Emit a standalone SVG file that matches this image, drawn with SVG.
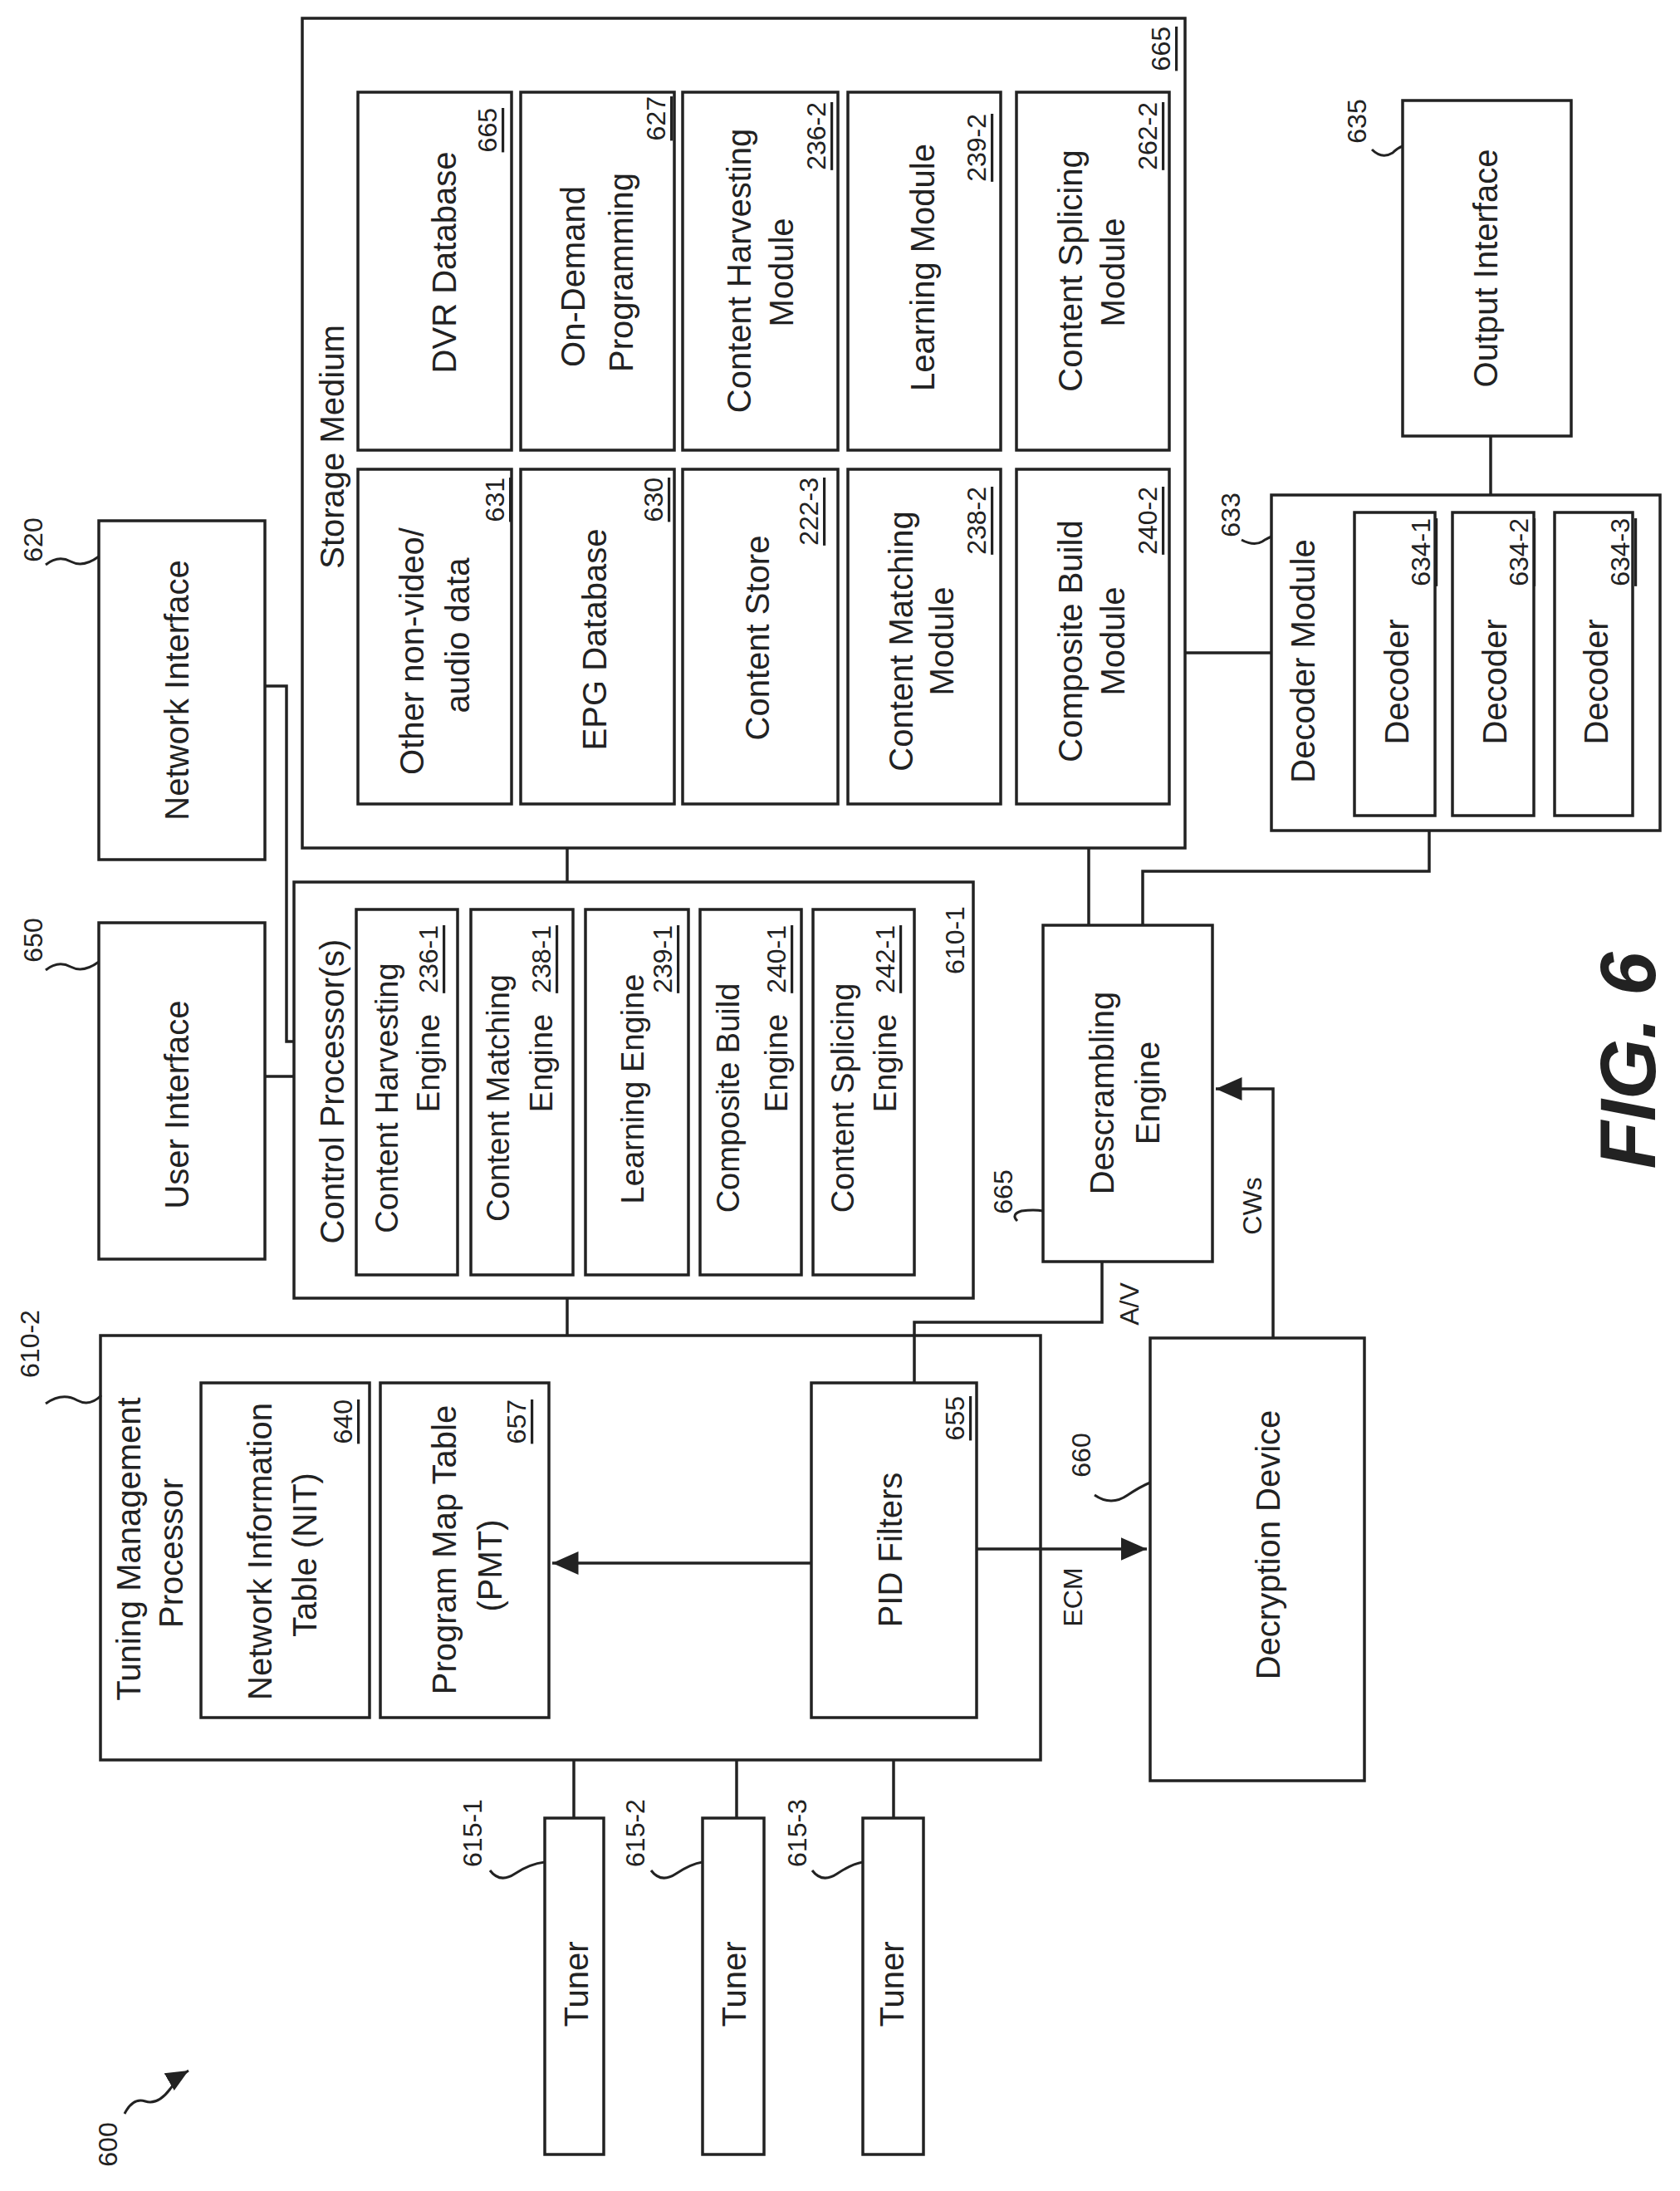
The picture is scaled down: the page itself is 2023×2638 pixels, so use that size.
<svg xmlns="http://www.w3.org/2000/svg" width="2023" height="2638" viewBox="0 0 2023 2638">
<style>
rect{fill:none;stroke:#222;stroke-width:3.5}
.c path,.c line,.c polyline{fill:none;stroke:#222;stroke-width:3.5}
.sq{fill:none;stroke:#222;stroke-width:3}
text{font-family:"Liberation Sans",Arial,sans-serif;font-size:40px;fill:#222;text-anchor:middle;dominant-baseline:central}
.e{font-size:38px}
.n{font-size:32px;text-anchor:end;text-decoration:underline}
.l{font-size:32px}
.fig{font-size:94px;font-weight:bold;font-style:italic}
</style>
<defs>
<marker id="ah" markerWidth="10" markerHeight="10" refX="9" refY="5" orient="auto" markerUnits="strokeWidth"><path d="M0,1 L9,5 L0,9 Z" fill="#222"/></marker>
</defs>
<g id="storage">
<rect x="364" y="22" width="1063" height="999"/>
<text transform="translate(400,538) rotate(-90)">Storage Medium</text>
<text class="n" transform="translate(1398,32) rotate(-90)">665</text>
</g>
<g id="dvr"><rect x="431" y="111" width="185" height="431"/>
<text transform="translate(535,316) rotate(-90)">DVR Database</text>
<text class="n" transform="translate(587,130) rotate(-90)">665</text></g>
<g id="ondemand"><rect x="627" y="111" width="185" height="431"/>
<text transform="translate(690,333) rotate(-90)">On-Demand</text>
<text transform="translate(748,328) rotate(-90)">Programming</text>
<text class="n" transform="translate(790,116) rotate(-90)">627</text></g>
<g id="chm"><rect x="822" y="111" width="187" height="431"/>
<text transform="translate(890,326) rotate(-90)">Content Harvesting</text>
<text transform="translate(941,328) rotate(-90)">Module</text>
<text class="n" transform="translate(983,123) rotate(-90)">236-2</text></g>
<g id="lm"><rect x="1021" y="111" width="184" height="431"/>
<text transform="translate(1111,322) rotate(-90)">Learning Module</text>
<text class="n" transform="translate(1176,137) rotate(-90)">239-2</text></g>
<g id="csm"><rect x="1224" y="111" width="184" height="431"/>
<text transform="translate(1289,326) rotate(-90)">Content Splicing</text>
<text transform="translate(1340,328) rotate(-90)">Module</text>
<text class="n" transform="translate(1382,123) rotate(-90)">262-2</text></g>
<g id="other"><rect x="431" y="565" width="185" height="403"/>
<text transform="translate(496,784) rotate(-90)">Other non-video/</text>
<text transform="translate(551,765) rotate(-90)">audio data</text>
<text class="n" transform="translate(596,575) rotate(-90)">631</text></g>
<g id="epg"><rect x="627" y="565" width="185" height="403"/>
<text transform="translate(716,770) rotate(-90)">EPG Database</text>
<text class="n" transform="translate(787,575) rotate(-90)">630</text></g>
<g id="cstore"><rect x="822" y="565" width="187" height="403"/>
<text transform="translate(912,768) rotate(-90)">Content Store</text>
<text class="n" transform="translate(974,575) rotate(-90)">222-3</text></g>
<g id="cmm"><rect x="1021" y="565" width="184" height="403"/>
<text transform="translate(1085,772) rotate(-90)">Content Matching</text>
<text transform="translate(1134,772) rotate(-90)">Module</text>
<text class="n" transform="translate(1176,586) rotate(-90)">238-2</text></g>
<g id="cbm"><rect x="1224" y="565" width="184" height="403"/>
<text transform="translate(1289,772) rotate(-90)">Composite Build</text>
<text transform="translate(1340,772) rotate(-90)">Module</text>
<text class="n" transform="translate(1382,586) rotate(-90)">240-2</text></g>

<g id="netif"><rect x="119" y="627" width="200" height="408"/>
<text transform="translate(213,831) rotate(-90)">Network Interface</text>
<text class="l" transform="translate(40,650) rotate(-90)">620</text>
<path class="sq" d="M55,680 q15,-12 30,-4 q15,8 34,-6"/></g>
<g id="userif"><rect x="119" y="1111" width="200" height="405"/>
<text transform="translate(213,1330) rotate(-90)">User Interface</text>
<text class="l" transform="translate(40,1132) rotate(-90)">650</text>
<path class="sq" d="M55,1168 q15,-12 30,-4 q15,8 34,-6"/></g>

<g id="control"><rect x="354" y="1062" width="818" height="501"/>
<text transform="translate(400,1314) rotate(-90)">Control Processor(s)</text>
<text class="l" transform="translate(1150,1132) rotate(-90)">610-1</text></g>
<g id="che"><rect x="429" y="1095" width="122" height="440"/>
<text class="e" transform="translate(466,1322) rotate(-90)">Content Harvesting</text>
<text class="e" transform="translate(516,1280) rotate(-90)">Engine</text>
<text class="n" transform="translate(516,1114) rotate(-90)">236-1</text></g>
<g id="cme"><rect x="567" y="1095" width="123" height="440"/>
<text class="e" transform="translate(600,1322) rotate(-90)">Content Matching</text>
<text class="e" transform="translate(652,1280) rotate(-90)">Engine</text>
<text class="n" transform="translate(652,1114) rotate(-90)">238-1</text></g>
<g id="le"><rect x="705" y="1095" width="124" height="440"/>
<text class="e" transform="translate(762,1311) rotate(-90)">Learning Engine</text>
<text class="n" transform="translate(798,1114) rotate(-90)">239-1</text></g>
<g id="cbe"><rect x="843" y="1095" width="122" height="440"/>
<text class="e" transform="translate(877,1322) rotate(-90)">Composite Build</text>
<text class="e" transform="translate(935,1280) rotate(-90)">Engine</text>
<text class="n" transform="translate(935,1114) rotate(-90)">240-1</text></g>
<g id="cse"><rect x="979" y="1095" width="122" height="440"/>
<text class="e" transform="translate(1015,1322) rotate(-90)">Content Splicing</text>
<text class="e" transform="translate(1066,1280) rotate(-90)">Engine</text>
<text class="n" transform="translate(1066,1114) rotate(-90)">242-1</text></g>

<g id="tuning"><rect x="121" y="1608" width="1132" height="511"/>
<text transform="translate(155,1865) rotate(-90)">Tuning Management</text>
<text transform="translate(206,1870) rotate(-90)">Processor</text>
<text class="l" transform="translate(36,1618) rotate(-90)">610-2</text>
<path class="sq" d="M55,1690 q20,-14 38,-4 q15,8 29,-6"/></g>
<g id="nit"><rect x="242" y="1665" width="203" height="403"/>
<text transform="translate(313,1868) rotate(-90)">Network Information</text>
<text transform="translate(367,1872) rotate(-90)">Table (NIT)</text>
<text class="n" transform="translate(413,1685) rotate(-90)">640</text></g>
<g id="pmt"><rect x="458" y="1665" width="203" height="403"/>
<text transform="translate(535,1866) rotate(-90)">Program Map Table</text>
<text transform="translate(590,1885) rotate(-90)">(PMT)</text>
<text class="n" transform="translate(622,1685) rotate(-90)">657</text></g>
<g id="pid"><rect x="977" y="1665" width="199" height="403"/>
<text transform="translate(1072,1866) rotate(-90)">PID Filters</text>
<text class="n" transform="translate(1150,1681) rotate(-90)">655</text></g>

<g id="decrypt"><rect x="1385" y="1611" width="258" height="533"/>
<text transform="translate(1527,1860) rotate(-90)">Decryption Device</text>
<text class="l" transform="translate(1302,1752) rotate(-90)">660</text>
<path class="sq" d="M1318,1800 q20,14 40,0 q15,-10 27,-15"/></g>
<g id="descr"><rect x="1256" y="1114" width="204" height="405"/>
<text transform="translate(1327,1316) rotate(-90)">Descrambling</text>
<text transform="translate(1382,1316) rotate(-90)">Engine</text>
<text class="l" transform="translate(1208,1435) rotate(-90)">665</text>
<path class="sq" d="M1225,1470 q-8,-8 5,-12 q15,-2 26,0"/></g>

<g id="decoder"><rect x="1531" y="596" width="468" height="404"/>
<text transform="translate(1569,796) rotate(-90)">Decoder Module</text>
<text class="l" transform="translate(1482,620) rotate(-90)">633</text>
<path class="sq" d="M1495,650 q15,8 25,2 q6,-4 11,-6"/></g>
<g id="dec1"><rect x="1631" y="617" width="97" height="365"/>
<text transform="translate(1682,821) rotate(-90)">Decoder</text>
<text class="n" transform="translate(1711,624) rotate(-90)">634-1</text></g>
<g id="dec2"><rect x="1749" y="617" width="98" height="365"/>
<text transform="translate(1800,821) rotate(-90)">Decoder</text>
<text class="n" transform="translate(1829,624) rotate(-90)">634-2</text></g>
<g id="dec3"><rect x="1872" y="617" width="94" height="365"/>
<text transform="translate(1922,821) rotate(-90)">Decoder</text>
<text class="n" transform="translate(1951,624) rotate(-90)">634-3</text></g>
<g id="outif"><rect x="1689" y="121" width="203" height="404"/>
<text transform="translate(1789,323) rotate(-90)">Output Interface</text>
<text class="l" transform="translate(1634,146) rotate(-90)">635</text>
<path class="sq" d="M1652,180 q12,12 25,4 q6,-6 12,-8"/></g>

<g id="tuner1"><rect x="656" y="2189" width="71" height="405"/>
<text transform="translate(694,2389) rotate(-90)">Tuner</text>
<text class="l" transform="translate(569,2207) rotate(-90)">615-1</text>
<path class="sq" d="M590,2252 q12,16 30,4 q18,-12 36,-14"/></g>
<g id="tuner2"><rect x="846" y="2189" width="74" height="405"/>
<text transform="translate(884,2389) rotate(-90)">Tuner</text>
<text class="l" transform="translate(765,2207) rotate(-90)">615-2</text>
<path class="sq" d="M784,2252 q12,16 30,4 q18,-12 32,-14"/></g>
<g id="tuner3"><rect x="1039" y="2189" width="73" height="405"/>
<text transform="translate(1074,2389) rotate(-90)">Tuner</text>
<text class="l" transform="translate(960,2207) rotate(-90)">615-3</text>
<path class="sq" d="M978,2252 q12,16 30,4 q18,-12 31,-14"/></g>

<g id="label600">
<text class="l" transform="translate(130,2582) rotate(-90)">600</text>
<path class="sq" d="M150,2545 q10,-20 25,-15 q15,5 30,-15 q10,-15 22,-22" marker-end="url(#ah)"/>
</g>
<text class="fig" transform="translate(1960,1277) rotate(-90)">FIG. 6</text>

<g id="connectors" class="c">
<polyline points="319,826 345,826 345,1254 354,1254"/>
<line x1="319" y1="1296" x2="354" y2="1296"/>
<line x1="683" y1="1021" x2="683" y2="1062"/>
<line x1="683" y1="1563" x2="683" y2="1608"/>
<line x1="1427" y1="786" x2="1531" y2="786"/>
<line x1="1795" y1="525" x2="1795" y2="596"/>
<polyline points="1721,1000 1721,1049 1376,1049 1376,1114"/>
<line x1="1311" y1="1021" x2="1311" y2="1114"/>
<polyline points="1101,1665 1101,1592 1327,1592 1327,1519"/>
<line x1="977" y1="1882" x2="665" y2="1882" marker-end="url(#ah)"/>
<line x1="1176" y1="1865" x2="1381" y2="1865" marker-end="url(#ah)"/>
<polyline points="1533,1611 1533,1311 1464,1311" marker-end="url(#ah)"/>
<line x1="691" y1="2119" x2="691" y2="2189"/>
<line x1="887" y1="2119" x2="887" y2="2189"/>
<line x1="1076" y1="2119" x2="1076" y2="2189"/>
</g>
<text class="l" transform="translate(1360,1570) rotate(-90)">A/V</text>
<text class="l" transform="translate(1292,1923) rotate(-90)">ECM</text>
<text class="l" transform="translate(1508,1452) rotate(-90)">CWs</text>
</svg>
